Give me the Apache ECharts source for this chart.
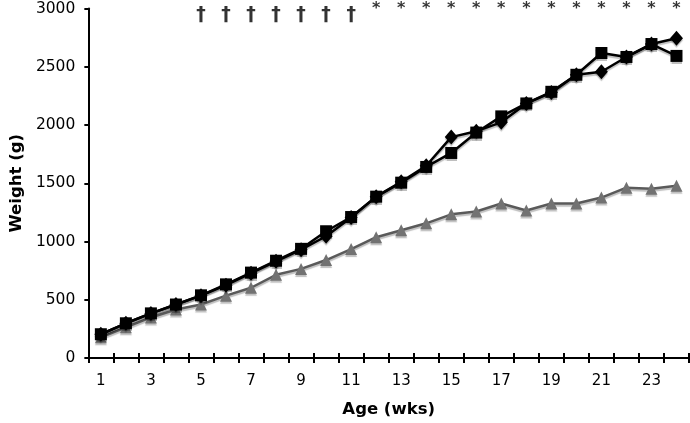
<!DOCTYPE html>
<html>
<head>
<meta charset="utf-8">
<script src="https://cdn.jsdelivr.net/npm/echarts@6/dist/echarts.min.js"></script>
<style>html,body{margin:0;padding:0;background:#fff}#c{width:690px;height:423px}</style>
</head>
<body>
<div id="c"></div>
<script>
var weeks = ['1','2','3','4','5','6','7','8','9','10','11','12','13','14','15','16','17','18','19','20','21','22','23','24'];
var diamondSeries = [204, 298, 383, 459, 535, 625, 728, 830, 930, 1045, 1205, 1385, 1513, 1650, 1896, 1947, 2023, 2185, 2278, 2431, 2457, 2584, 2695, 2745];
var squareSeries  = [204, 298, 383, 459, 538, 632, 733, 835, 937, 1088, 1210, 1385, 1505, 1640, 1760, 1935, 2074, 2185, 2285, 2431, 2618, 2584, 2695, 2593];
var triangleSeries = [178, 263, 348, 416, 459, 535, 603, 714, 765, 841, 935, 1037, 1097, 1156, 1233, 1258, 1326, 1266, 1326, 1326, 1377, 1462, 1453, 1479];
var daggerWeeks = ['5','6','7','8','9','10','11'];
var starWeeks = ['12','13','14','15','16','17','18','19','20','21','22','23','24'];
var daggerLevel = 2940;
var starLevel = 2995;
var yTicks = {min: 0, max: 3000, interval: 500};

var font = 'DejaVu Sans';
var chart = echarts.init(document.getElementById('c'), null, {renderer: 'canvas'});

function mkAnno(list, level, text, size, weight) {
  return {
    type: 'scatter',
    data: list.map(function (w) { return [w, level]; }),
    symbolSize: 1,
    itemStyle: {color: 'rgba(0,0,0,0)'},
    clip: false,
    silent: true,
    z: 5,
    label: {show: true, position: 'inside', formatter: text, color: '#000',
      fontFamily: font, fontSize: size, fontWeight: weight}
  };
}

var shadow = {shadowColor: 'rgba(0,0,0,0.25)', shadowOffsetY: 2, shadowBlur: 1};

chart.setOption({
  animation: false,
  backgroundColor: '#fff',
  grid: {left: 80, right: 1, top: 8.5, bottom: 62.5, containLabel: false},
  xAxis: [{
    type: 'category',
    data: weeks,
    boundaryGap: true,
    name: 'Age (wks)',
    nameLocation: 'middle',
    nameGap: 43,
    nameTextStyle: {fontFamily: font, fontSize: 16.5, fontWeight: 'bold', color: '#000'},
    axisLine: {show: true, lineStyle: {color: '#000', width: 2}},
    axisTick: {show: true, interval: 0, length: 5, lineStyle: {color: '#000', width: 2}},
    axisLabel: {interval: 1, margin: 16, fontFamily: font, fontSize: 15, color: '#000'},
    splitLine: {show: false}
  }, {
    type: 'category',
    data: weeks,
    position: 'bottom',
    boundaryGap: true,
    axisLine: {show: false},
    axisTick: {show: true, inside: true, interval: 0, length: 5, lineStyle: {color: '#000', width: 2}},
    axisLabel: {show: false},
    splitLine: {show: false}
  }],
  yAxis: {
    type: 'value',
    min: yTicks.min, max: yTicks.max, interval: yTicks.interval,
    name: 'Weight (g)',
    nameLocation: 'middle',
    nameGap: 63,
    nameTextStyle: {fontFamily: font, fontSize: 16.5, fontWeight: 'bold', color: '#000'},
    axisLine: {show: true, lineStyle: {color: '#000', width: 2}},
    axisTick: {show: true, length: 4, lineStyle: {color: '#000', width: 2}},
    axisLabel: {margin: 13, fontFamily: font, fontSize: 15.5, color: '#000',
      formatter: function (v) { return String(v); }},
    splitLine: {show: false}
  },
  series: [
    {
      type: 'line', data: triangleSeries, symbol: 'triangle', symbolSize: 12,
      lineStyle: Object.assign({color: '#5a5a5a', width: 2.5}, shadow),
      itemStyle: Object.assign({color: '#727272'}, shadow), z: 2
    },
    {
      type: 'line', data: squareSeries, symbol: 'rect', symbolSize: 12,
      lineStyle: Object.assign({color: '#000', width: 2.5}, shadow),
      itemStyle: Object.assign({color: '#000'}, shadow), z: 3
    },
    {
      type: 'line', data: diamondSeries, symbol: 'diamond', symbolSize: [13, 15],
      lineStyle: Object.assign({color: '#000', width: 2.5}, shadow),
      itemStyle: Object.assign({color: '#000'}, shadow), z: 4
    },
    mkAnno(daggerWeeks, daggerLevel, '\u2020', 19, 'bold'),
    mkAnno(starWeeks, starLevel, '*', 16, 'bold')
  ]
});
</script>
</body>
</html>
